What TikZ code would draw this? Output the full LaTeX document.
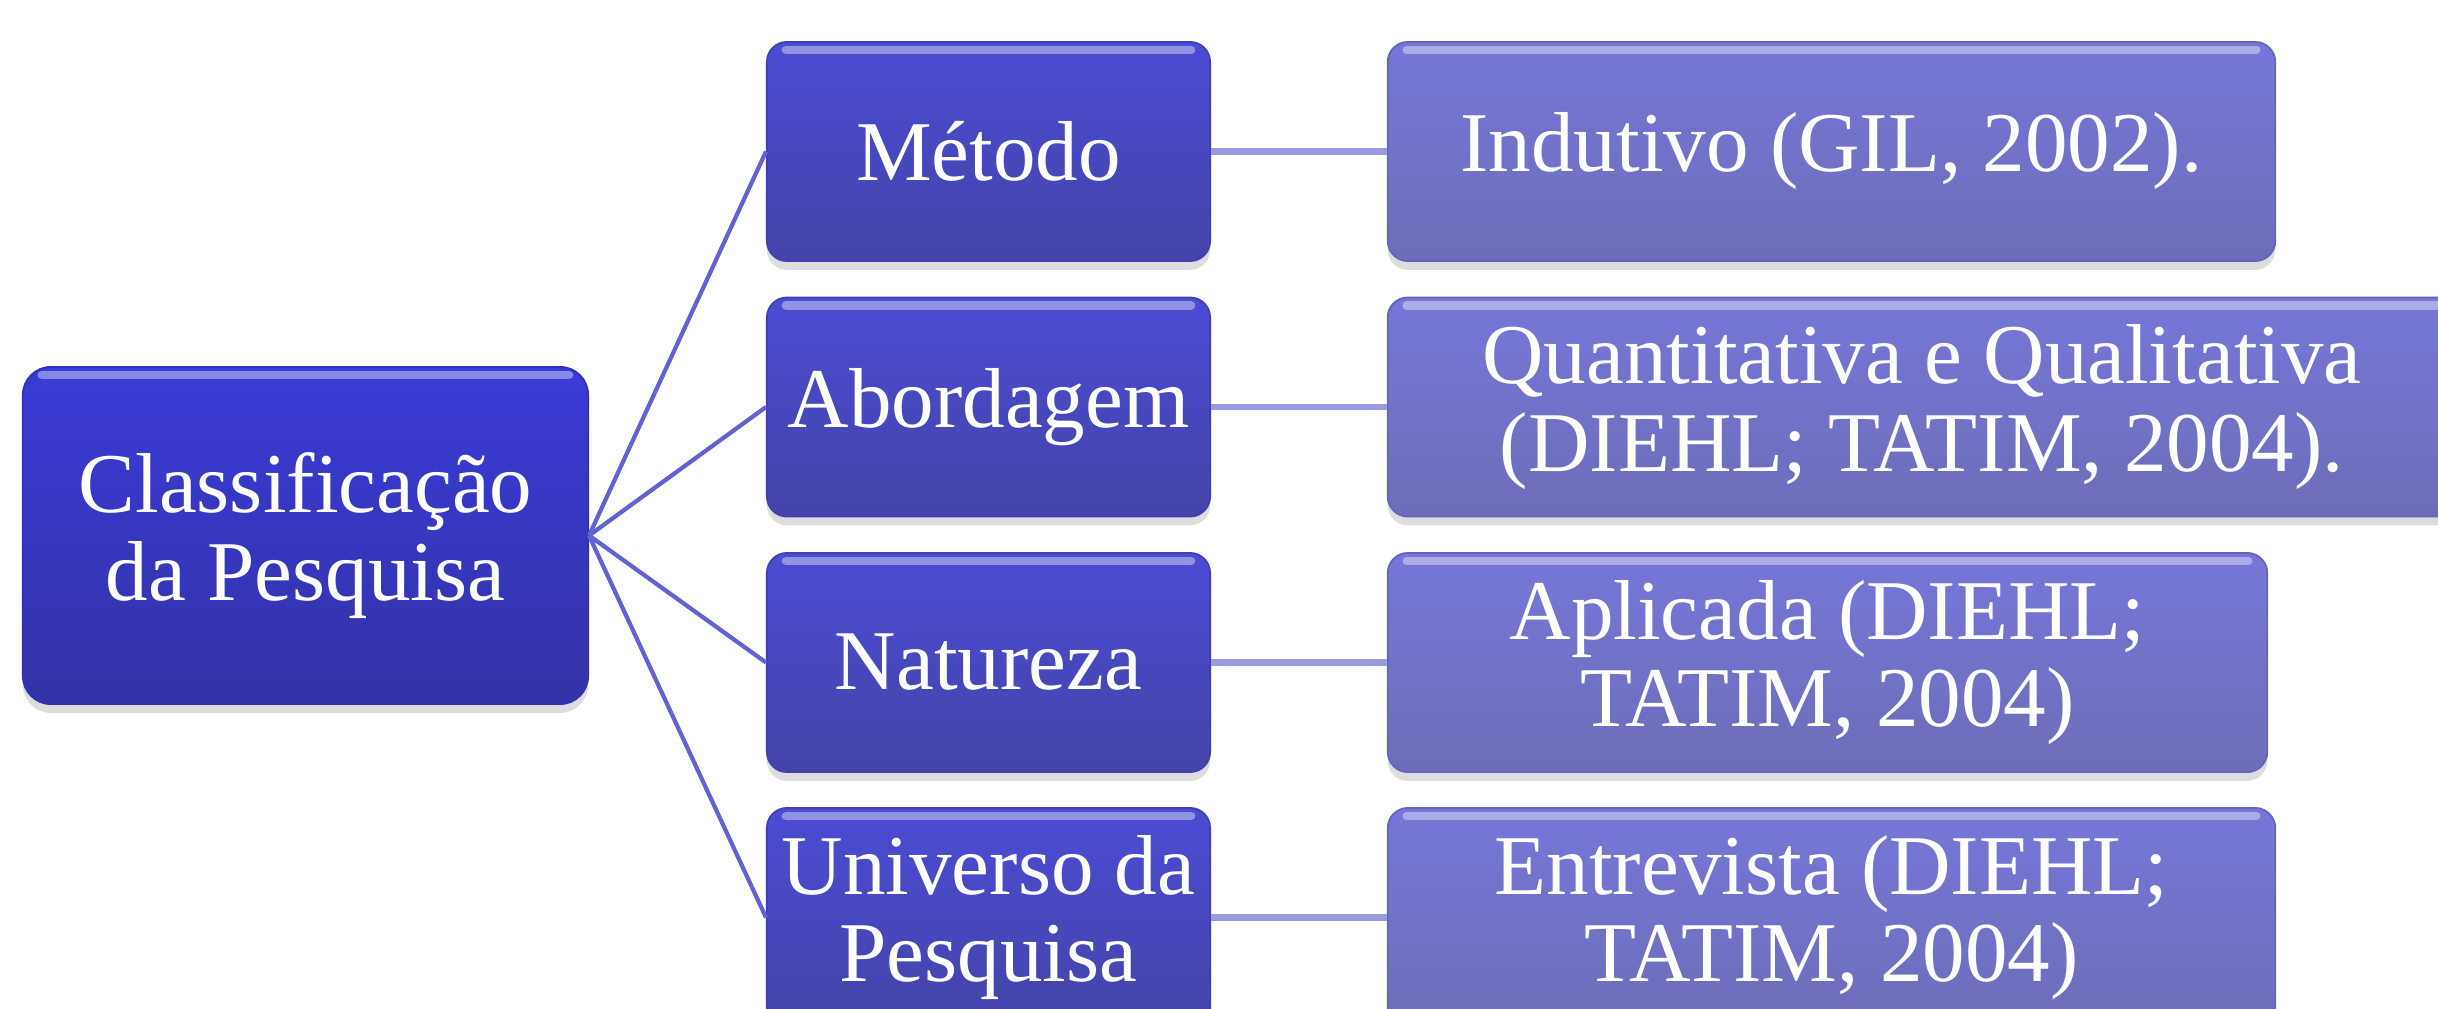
\documentclass[tikz,border=0pt]{standalone}
\usepackage{fontspec}
\setmainfont{Liberation Serif}
\usetikzlibrary{shadows}
\definecolor{rootTop}{HTML}{3A3AD8}
\definecolor{rootBot}{HTML}{3333A6}
\definecolor{midTop}{HTML}{4B4BD4}
\definecolor{midBot}{HTML}{4444A8}
\definecolor{leafTop}{HTML}{7676D9}
\definecolor{leafBot}{HTML}{6D6DB8}
\definecolor{spoke}{HTML}{6262D2}
\definecolor{bar}{HTML}{9A9ADE}
\tikzset{
  box/.style={rounded corners=0.2cm, draw=#1Top!85!black, line width=0.5pt,
    top color=#1Top, bottom color=#1Bot, text=white, align=center, inner sep=0pt,
    font=\fontsize{24.2}{24.8}\selectfont,
    drop shadow={shadow xshift=0pt, shadow yshift=-2.5pt, opacity=0.22, fill=black!60}},
  spokeline/.style={spoke, line width=1.2pt},
  barline/.style={bar, line width=1.9pt},
  gloss/.style={white, opacity=0.4, line width=2.5pt, line cap=round}
}
\begin{document}
\begin{tikzpicture}[x=0.01cm, y=-0.01cm]
\useasboundingbox (0,0) rectangle (2438,1009);
% root
\node[box=root, minimum width=5.65cm, minimum height=3.37cm, rounded corners=0.28cm,
  font=\fontsize{24.2}{25}\selectfont] (r) at (305.5,535.5) {Classificação\\da Pesquisa};
% middle column
\node[box=mid, minimum width=4.43cm, minimum height=2.19cm] (m1) at (988.5,151.5) {Método};
\node[box=mid, minimum width=4.43cm, minimum height=2.19cm] (m2) at (988.5,407) {Abordagem};
\node[box=mid, minimum width=4.43cm, minimum height=2.19cm] (m3) at (988.5,662.5) {Natureza};
\node[box=mid, minimum width=4.43cm, minimum height=2.19cm] (m4) at (988.5,917.5) {Universo da\\Pesquisa};
% right column
\node[box=leaf, minimum width=8.87cm, minimum height=2.19cm] (l1) at (1831.5,151.5) {Indutivo (GIL, 2002).};
\node[box=leaf, minimum width=10.68cm, minimum height=2.19cm] (l2) at (1922,407) {Quantitativa e Qualitativa\\(DIEHL; TATIM, 2004).};
\node[box=leaf, minimum width=8.79cm, minimum height=2.19cm] (l3) at (1827.5,662.5) {Aplicada (DIEHL;\\TATIM, 2004)};
\node[box=leaf, minimum width=8.87cm, minimum height=2.19cm] (l4) at (1831.5,917.5) {Entrevista (DIEHL;\\TATIM, 2004)};
% gloss bands
\foreach \n in {r,m1,m2,m3,m4,l1,l2,l3,l4}{
  \draw[gloss] ([xshift=0.2cm,yshift=-0.09cm]\n.north west) -- ([xshift=-0.2cm,yshift=-0.09cm]\n.north east);
}
% connectors
\foreach \n in {m1,m2,m3,m4}{
  \draw[spokeline] (r.east) -- (\n.west);
}
\draw[barline] (m1.east) -- (l1.west);
\draw[barline] (m2.east) -- (l2.west);
\draw[barline] (m3.east) -- (l3.west);
\draw[barline] (m4.east) -- (l4.west);
\end{tikzpicture}
\end{document}
